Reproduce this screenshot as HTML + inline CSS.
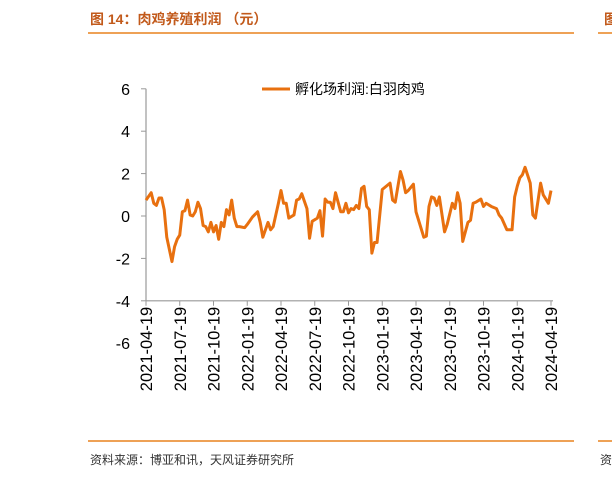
<!DOCTYPE html>
<html><head><meta charset="utf-8"><style>
body{margin:0;background:#fff;width:612px;height:477px;overflow:hidden;font-family:"Liberation Sans","Noto Sans CJK SC",sans-serif}
</style></head><body>
<svg width="612" height="477" xmlns="http://www.w3.org/2000/svg">
<text x="90" y="24" font-size="14" font-weight="bold" fill="#c25a1b" font-family="Liberation Sans,Noto Sans CJK SC,sans-serif">图 14：肉鸡养殖利润 （元）</text>
<text x="604" y="24" font-size="14" font-weight="bold" fill="#c25a1b" font-family="Noto Sans CJK SC,sans-serif">图</text>
<line x1="88" y1="33" x2="574" y2="33" stroke="#e8821e" stroke-width="1.5"/>
<line x1="598" y1="33" x2="612" y2="33" stroke="#e8821e" stroke-width="1.5"/>
<line x1="88" y1="441" x2="574" y2="441" stroke="#e8821e" stroke-width="1.5"/>
<line x1="598" y1="441" x2="612" y2="441" stroke="#e8821e" stroke-width="1.5"/>
<text x="90" y="464" font-size="12" fill="#333" font-family="Liberation Sans,Noto Sans CJK SC,sans-serif">资料来源：博亚和讯，天风证券研究所</text>
<text x="600" y="464" font-size="12" fill="#333" font-family="Noto Sans CJK SC,sans-serif">资</text>
<g id="plot"></g>
</svg>
<script>
const weeks=[0,2,3,4,5,6,7,8,10,11,12,13,14,15,16,17,18,19,20,21,22,23,24,25,26,27,28,29,30,31,32,33,34,35,36,38,39,41,43,44,45,47,48,49,50,51,52,53,54,55,57,58,59,60,62,63,64,66,67,68,69,70,71,72,73,75,76,77,78,79,80,81,82,83,84,85,86,87,88,89,91,92,94,95,96,98,99,100,101,103,104,107,108,109,110,111,112,113,115,116,118,119,120,121,122,124,125,126,127,129,130,131,133,135,136,137,139,141,142,143,144,145,146,148,149,150,152,153,155,156];
const profit=[0.75,1.1,0.6,0.5,0.85,0.85,0.3,-1.0,-2.15,-1.45,-1.1,-0.9,0.2,0.25,0.75,0.05,0,0.2,0.65,0.35,-0.45,-0.5,-0.75,-0.3,-0.75,-0.45,-1.1,-0.3,-0.5,0.3,0.05,0.75,-0.1,-0.5,-0.5,-0.55,-0.4,-0.05,0.2,-0.3,-1.0,-0.3,-0.65,-0.5,0.05,0.6,1.2,0.6,0.6,-0.1,0.05,0.75,0.8,1.05,0.35,-1.05,-0.25,-0.1,0.25,-0.95,0.8,0.65,0.65,0.35,1.1,0.2,0.2,0.6,0.15,0.35,0.3,0.5,0.35,1.3,1.4,0.45,0.3,-1.75,-1.25,-1.25,1.25,1.35,1.55,0.75,0.65,2.1,1.7,1.1,1.2,1.5,0.2,-1.0,-0.95,0.45,0.9,0.85,0.5,0.9,-0.75,-0.4,0.6,0.35,1.1,0.6,-1.2,-0.3,-0.2,0.6,0.65,0.8,0.45,0.6,0.45,0.35,0.05,-0.1,-0.65,-0.65,0.9,1.4,1.8,1.95,2.3,1.55,0.05,-0.1,1.55,1.0,0.6,1.2];
const yTicks=[6,4,2,0,-2,-4,-6];
const xLabels=["2021-04-19","2021-07-19","2021-10-19","2022-01-19","2022-04-19","2022-07-19","2022-10-19","2023-01-19","2023-04-19","2023-07-19","2023-10-19","2024-01-19","2024-04-19"];
const NS="http://www.w3.org/2000/svg";
const g=document.getElementById('plot');
const x0=146,x1=551,wMax=156;
const X=w=>x0+(x1-x0)*w/wMax;
const Y=v=>216-v*21.2;
function el(t,a){const e=document.createElementNS(NS,t);for(const k in a)e.setAttribute(k,a[k]);g.appendChild(e);return e;}
const ax=el('line',{x1:x0,y1:Y(6),x2:x0,y2:Y(-4),stroke:'#999','stroke-width':1.2});


const xa=el('line',{x1:x0,y1:Y(-4),x2:x1+2,y2:Y(-4),stroke:'#999','stroke-width':1.2});


yTicks.forEach(v=>{
  if(v>=-4){const t=el('line',{x1:x0-5,y1:Y(v),x2:x0,y2:Y(v),stroke:'#999'});
  
  }
  const l=el('text',{x:130,y:Y(v)+6,'text-anchor':'end','font-size':16,fill:'#000','font-family':'Liberation Sans,sans-serif'});
  l.textContent=String(v);
  
  
});
xLabels.forEach((s,i)=>{
  const xp=X(i*13);
  const t=el('line',{x1:xp,y1:Y(-4),x2:xp,y2:Y(-4)+5,stroke:'#999'});
  
  
  const l=el('text',{x:0,y:0,'text-anchor':'end','font-size':16.5,fill:'#000','font-family':'Liberation Sans,sans-serif',transform:`translate(${xp+6},${Y(-4)+6}) rotate(-90)`});
  l.textContent=s;
  
  
});
const p=el('polyline',{points:weeks.map((w,i)=>X(w)+','+Y(profit[i])).join(' '),fill:'none',stroke:'#e8700f','stroke-width':3,'stroke-linejoin':'round'});


const ll=el('line',{x1:262,y1:89,x2:290,y2:89,stroke:'#e8700f','stroke-width':3});


const lt=el('text',{x:295,y:94,'font-size':14,fill:'#000','font-family':'Liberation Sans,Noto Sans CJK SC,sans-serif'});
lt.textContent='孵化场利润:白羽肉鸡';


</script>
</body></html>
